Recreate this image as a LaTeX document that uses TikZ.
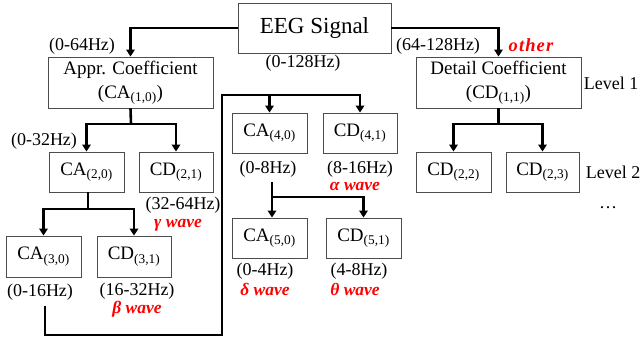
\documentclass[tikz,border=0pt]{standalone}
\usepackage{fontspec}
\setmainfont{Liberation Serif}
\usetikzlibrary{arrows.meta}
\tikzset{
  box/.style={draw=black!70, line width=0.9pt, font=\fontsize{19}{24}\selectfont, align=center, inner sep=0pt},
  lbl/.style={font=\fontsize{18}{20}\selectfont, inner sep=0pt},
  wave/.style={font=\fontsize{17.5}{20}\selectfont\bfseries\itshape, text=red, inner sep=0pt},
  conn/.style={line width=2.6pt, -{Triangle[length=7pt,width=8.5pt]}},
  plain/.style={line width=2.6pt}
}
\begin{document}
\begin{tikzpicture}[x=1pt,y=-1pt]
\useasboundingbox (0,0) rectangle (642,343);
% boxes
\node[box, minimum width=153pt, minimum height=50pt, font=\fontsize{23}{26}\selectfont] (eeg) at (314.5,28) {EEG Signal};
\node[box, minimum width=165pt, minimum height=51pt] (appr) at (130.5,82.5) {Appr. Coefficient\\(CA\textsubscript{(1,0)})};
\node[box, minimum width=165pt, minimum height=51pt] (detail) at (498.5,82.5) {Detail Coefficient\\(CD\textsubscript{(1,1)})};
\node[box, minimum width=75pt, minimum height=40pt] (ca20) at (86.5,172) {CA\textsubscript{(2,0)}};
\node[box, minimum width=74pt, minimum height=40pt] (cd21) at (176,172) {CD\textsubscript{(2,1)}};
\node[box, minimum width=75pt, minimum height=41pt] (ca30) at (43.5,256.5) {CA\textsubscript{(3,0)}};
\node[box, minimum width=74pt, minimum height=41pt] (cd31) at (134,256.5) {CD\textsubscript{(3,1)}};
\node[box, minimum width=75pt, minimum height=40pt] (ca40) at (269.5,133) {CA\textsubscript{(4,0)}};
\node[box, minimum width=74pt, minimum height=40pt] (cd41) at (360,133) {CD\textsubscript{(4,1)}};
\node[box, minimum width=75pt, minimum height=40pt] (cd22) at (453.5,172) {CD\textsubscript{(2,2)}};
\node[box, minimum width=73pt, minimum height=40pt] (cd23) at (542.5,172) {CD\textsubscript{(2,3)}};
\node[box, minimum width=75pt, minimum height=40pt] (ca50) at (269.5,238) {CA\textsubscript{(5,0)}};
\node[box, minimum width=75pt, minimum height=40pt] (cd51) at (363.5,238) {CD\textsubscript{(5,1)}};
% labels
\node[lbl] (l064) at (82,46) {(0-64Hz)};
\node[lbl] (l0128) at (303,63) {(0-128Hz)};
\node[lbl] (l64128) at (438,46) {(64-128Hz)};
\node[wave, font=\fontsize{18.5}{20}\selectfont\bfseries\itshape\addfontfeatures{LetterSpace=6}] (wother) at (531,45) {other};
\node[lbl] (lev1) at (611,83) {Level 1};
\node[lbl] (l032) at (44,141) {(0-32Hz)};
\node[lbl] (l08) at (268,169.5) {(0-8Hz)};
\node[lbl] (l816) at (360,169) {(8-16Hz)};
\node[wave] (walpha) at (355,186) {α wave};
\node[lbl] (l3264) at (183,205.5) {(32-64Hz)};
\node[wave] (wgamma) at (178,225) {γ wave};
\node[lbl] (lev2) at (613,172) {Level 2};
\node[lbl] (dots) at (608,208) {\ldots};
\node[lbl] (l016) at (40,292) {(0-16Hz)};
\node[lbl] (l1632) at (137,291.5) {(16-32Hz)};
\node[wave] (wbeta) at (137,309) {β wave};
\node[lbl] (l04) at (265,271.5) {(0-4Hz)};
\node[wave] (wdelta) at (265,289.5) {δ wave};
\node[lbl] (l48) at (359,271.5) {(4-8Hz)};
\node[wave] (wtheta) at (355,289.5) {θ wave};
% connectors
\draw[conn] (eeg.west) -| (appr.north);
\draw[conn] (eeg.east) -| (detail.north);
\coordinate (j1) at (131,124);
\draw[plain] (appr.south) -- (j1);
\draw[conn] (j1) -| (ca20.north);
\draw[conn] (j1) -| (cd21.north);
\coordinate (j2) at (88,209);
\draw[plain] (ca20.south -| j2) -- (j2);
\draw[conn] (j2) -| (ca30.north);
\draw[conn] (j2) -| (cd31.north);
\coordinate (j3) at (498.5,124);
\draw[plain] (detail.south) -- (j3);
\draw[conn] (j3) -| (cd22.north);
\draw[conn] (j3) -| (cd23.north);
\coordinate (s1) at (45,306);
\coordinate (b1) at (45,335);
\coordinate (b2) at (222,335);
\coordinate (b3) at (222,95);
\draw[conn] (s1) -- (b1) -- (b2) -- (b3) -| (cd41.north);
\draw[conn] (b3) -| (ca40.north);
\coordinate (s2) at (272,182);
\coordinate (j4) at (272,197);
\draw[conn] (s2) -- (s2 |- ca50.north);
\draw[conn] (j4) -| (cd51.north);
\end{tikzpicture}
\end{document}
